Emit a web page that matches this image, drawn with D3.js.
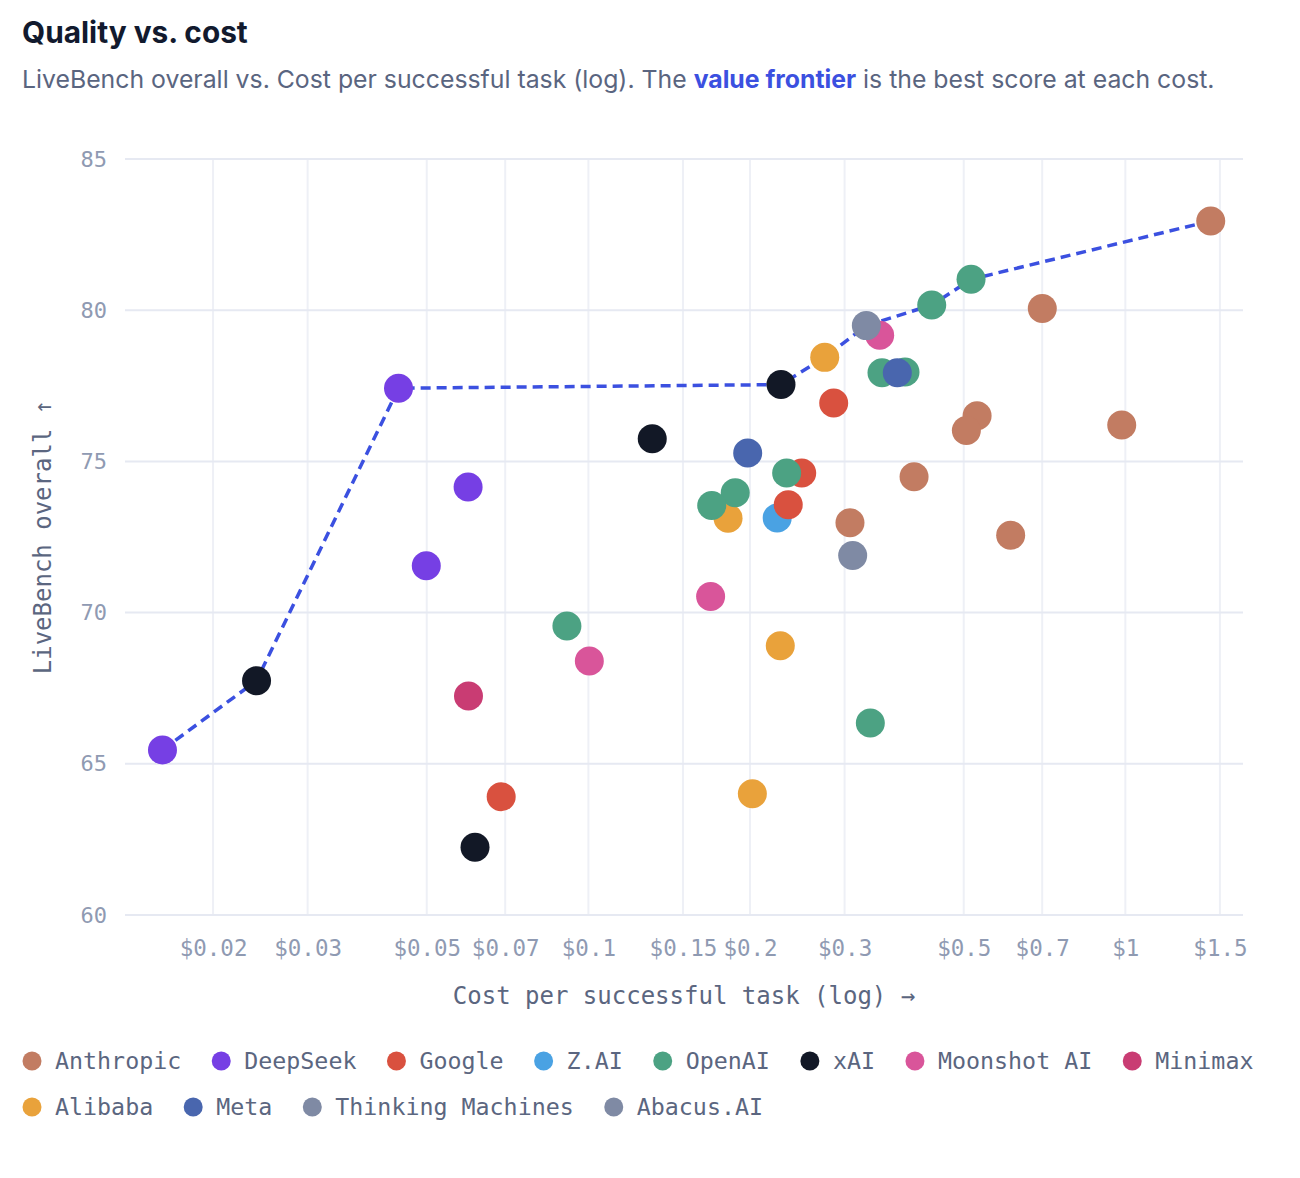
<!DOCTYPE html>
<html>
<head>
<meta charset="utf-8">
<script src="https://cdn.jsdelivr.net/npm/d3@7"></script>
<style>
  body { margin: 0; background: #fff; }
  #chart text { font-family: "DejaVu Sans Mono", monospace; }
</style>
</head>
<body>
<div id="chart"></div>
<script>
// chart values
const providers = ["Anthropic", "DeepSeek", "Google", "Z.AI", "OpenAI", "xAI",
  "Moonshot AI", "Minimax", "Alibaba", "Meta", "Thinking Machines", "Abacus.AI"];
const providerColors = ["#c27c62", "#763fe4", "#d9513f", "#4aa2e3", "#4ca283", "#121826",
  "#d9559a", "#c93c73", "#e9a23b", "#4966ae", "#7f8aa4", "#7f8aa4"];

// one entry per model, in draw order
const pointProvider = [
  "Anthropic", "Anthropic", "Anthropic", "Anthropic", "Anthropic", "Anthropic", "Anthropic", "Anthropic",
  "DeepSeek", "DeepSeek", "DeepSeek", "DeepSeek",
  "Z.AI",
  "Google", "Google", "Google", "Google",
  "Alibaba", "Alibaba", "Alibaba", "Alibaba",
  "OpenAI", "OpenAI", "OpenAI", "OpenAI", "OpenAI", "OpenAI", "OpenAI", "OpenAI", "OpenAI",
  "xAI", "xAI", "xAI", "xAI",
  "Moonshot AI", "Moonshot AI", "Moonshot AI",
  "Minimax",
  "Meta", "Meta",
  "Thinking Machines",
  "Abacus.AI"
];
const pointCost = [
  1.442, 0.7003, 0.9845, 0.5295, 0.5057, 0.4041, 0.3070, 0.6115,
  0.0443, 0.0597, 0.0499, 0.0161,
  0.2247,
  0.2863, 0.2496, 0.2356, 0.0688,
  0.2755, 0.1820, 0.2277, 0.2020,
  0.5160, 0.4359, 0.3522, 0.3887, 0.2340, 0.1877, 0.1697, 0.0912, 0.3350,
  0.2284, 0.1315, 0.0241, 0.0615,
  0.3487, 0.1689, 0.1004,
  0.0598,
  0.3761, 0.1980,
  0.3106,
  0.3293
];
const pointScore = [
  82.95, 80.06, 76.20, 76.51, 76.02, 74.49, 72.97, 72.56,
  77.42, 74.15, 71.55, 65.46,
  73.13,
  76.93, 74.62, 73.57, 63.91,
  78.44, 73.12, 68.90, 64.01,
  81.02, 80.17, 77.93, 77.96, 74.62, 73.96, 73.54, 69.56, 66.35,
  77.54, 75.75, 67.75, 62.24,
  79.17, 70.53, 68.40,
  67.24,
  77.93, 75.28,
  71.89,
  79.49
];

const xTicks = [0.02, 0.03, 0.05, 0.07, 0.1, 0.15, 0.2, 0.3, 0.5, 0.7, 1, 1.5];
const xTickLabels = ["$0.02", "$0.03", "$0.05", "$0.07", "$0.1", "$0.15", "$0.2", "$0.3", "$0.5", "$0.7", "$1", "$1.5"];
const yTicks = [60, 65, 70, 75, 80, 85];

const width = 1300;
const height = 1178;
const margin = { top: 159, right: 57, bottom: 263, left: 125 };

const svg = d3.select("#chart")
  .append("svg")
  .attr("width", width)
  .attr("height", height);

// title + subtitle
svg.append("text")
  .attr("x", 22).attr("y", 43)
  .style("font-family", "Inter, sans-serif")
  .style("font-weight", 700)
  .style("font-size", "29.8px")
  .attr("fill", "#121a2e")
  .text("Quality vs. cost");

const sub = svg.append("text")
  .attr("x", 22).attr("y", 88)
  .style("font-family", "Inter, sans-serif")
  .style("font-size", "24.8px")
  .attr("fill", "#5a6580");
sub.append("tspan").text("LiveBench overall vs. Cost per successful task (log). The ");
sub.append("tspan").attr("fill", "#3b50e0").style("font-weight", 700).text("value frontier");
sub.append("tspan").text(" is the best score at each cost.");

const x = d3.scaleLog()
  .domain([0.01371, 1.656])
  .range([margin.left, width - margin.right]);

const y = d3.scaleLinear()
  .domain([60, 85])
  .range([height - margin.bottom, margin.top]);

// grid
svg.append("g")
  .selectAll("line")
  .data(xTicks)
  .join("line")
  .attr("x1", d => x(d)).attr("x2", d => x(d))
  .attr("y1", y(85)).attr("y2", y(60))
  .attr("stroke", "#eef0f6")
  .attr("stroke-width", 2);

svg.append("g")
  .selectAll("line")
  .data(yTicks)
  .join("line")
  .attr("x1", margin.left).attr("x2", width - margin.right)
  .attr("y1", d => y(d)).attr("y2", d => y(d))
  .attr("stroke", "#e6e9f2")
  .attr("stroke-width", 2);

// axes (labels only)
const xAxis = d3.axisBottom(x)
  .tickValues(xTicks)
  .tickFormat((d, i) => xTickLabels[i])
  .tickSize(0)
  .tickPadding(0);

const gx = svg.append("g")
  .attr("transform", `translate(0,${y(60) + 25})`)
  .call(xAxis);
gx.select(".domain").remove();
gx.selectAll("text")
  .attr("dy", "0.71em")
  .attr("fill", "#8f9ab2")
  .style("font-size", "22.5px");

const yAxis = d3.axisLeft(y)
  .tickValues(yTicks)
  .tickSize(0)
  .tickPadding(0);

const gy = svg.append("g")
  .attr("transform", `translate(${margin.left - 18},0)`)
  .call(yAxis);
gy.select(".domain").remove();
gy.selectAll("text")
  .attr("fill", "#8f9ab2")
  .style("font-size", "22px");

svg.append("text")
  .attr("x", (x(0.01371) + x(1.656)) / 2)
  .attr("y", 1004)
  .attr("text-anchor", "middle")
  .attr("fill", "#5b6680")
  .style("font-size", "24px")
  .text("Cost per successful task (log) \u2192");

svg.append("text")
  .attr("transform", `translate(51,${(y(60) + y(85)) / 2}) rotate(-90)`)
  .attr("text-anchor", "middle")
  .attr("fill", "#5b6680")
  .style("font-size", "24px")
  .text("LiveBench overall \u2191");

// points
const points = pointCost.map((c, i) => ({ cost: c, score: pointScore[i], provider: pointProvider[i] }));
const color = d3.scaleOrdinal().domain(providers).range(providerColors);

// value frontier: best score so far, walking up in cost
const frontier = [];
points.slice().sort((a, b) => a.cost - b.cost).forEach(p => {
  if (!frontier.length || p.score > frontier[frontier.length - 1].score) frontier.push(p);
});

svg.append("path")
  .datum(frontier)
  .attr("fill", "none")
  .attr("stroke", "#3b50e0")
  .attr("stroke-width", 3.5)
  .attr("stroke-dasharray", "10 6")
  .attr("d", d3.line().x(d => x(d.cost)).y(d => y(d.score)));

svg.append("g")
  .selectAll("circle")
  .data(points)
  .join("circle")
  .attr("cx", d => x(d.cost))
  .attr("cy", d => y(d.score))
  .attr("r", 14.5)
  .attr("fill", d => color(d.provider));

// legend, flowing left to right and wrapping
const legend = svg.append("g");
let lx = 22, ly = 1061;
providers.forEach(p => {
  const item = legend.append("g");
  item.append("circle")
    .attr("cx", 10).attr("cy", 0).attr("r", 9.5)
    .attr("fill", color(p));
  const t = item.append("text")
    .attr("x", 33).attr("dy", "0.35em")
    .attr("fill", "#5b6680")
    .style("font-size", "23.3px")
    .text(p);
  const w = 33 + t.node().getComputedTextLength();
  if (lx + w > width - 20) { lx = 22; ly += 46; }
  item.attr("transform", `translate(${lx},${ly})`);
  lx += w + 30;
});
</script>
</body>
</html>
